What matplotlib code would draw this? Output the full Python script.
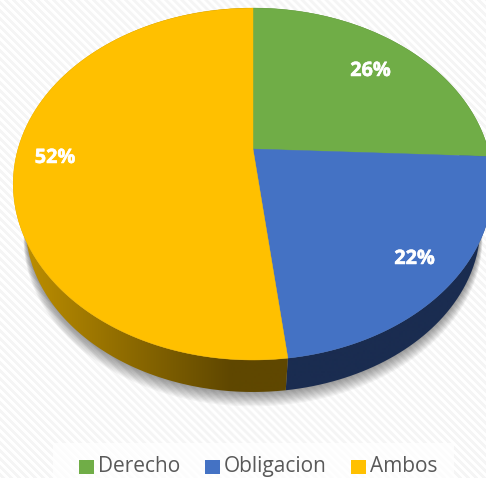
import matplotlib
matplotlib.use('Agg')

import numpy as np
import matplotlib.pyplot as plt
import matplotlib.patheffects as pe
from matplotlib.colors import to_rgb
from matplotlib.patches import Polygon, Rectangle

categories = ['Derecho', 'Obligacion', 'Ambos']
values = [25.7, 22.4, 51.9]
labels = ['26%', '22%', '52%']
top_colors = ['#70AD47', '#4472C4', '#FFC000']
side_dark = ['#3c5c26', '#1A2C50', '#5F4700']
side_light = ['#4f7a33', '#1A2C50', '#BC8E00']

W, H = 486, 478
CX, CY = 253, 149
A, B, K = 235, 169, 0.199
R_LOW = 0.95
DY_LOW = 45


def project(theta, r=1.0, dy=0):
    # circle -> screen, simple perspective (theta clockwise from top)
    u = r * np.sin(theta)
    v = r * np.cos(theta)
    w = 1 + K * v
    return CX + A * u / w, CY - B * v / w + dy


fig = plt.figure(figsize=(W / 100, H / 100), dpi=100)
ax = fig.add_axes([0, 0, 1, 1])
ax.set_xlim(0, W)
ax.set_ylim(H, 0)
ax.axis('off')

# striped background
yy, xx = np.mgrid[0:H, 0:W]
bg = np.where((xx - yy) % 8 < 4, 1.0, 0.96)
ax.imshow(bg, cmap='gray', vmin=0, vmax=1, extent=(0, W, H, 0), zorder=0,
          interpolation='bilinear', aspect='auto')
ax.add_patch(Rectangle((53, 443), 401, 35, fc='white', alpha=0.75, ec='none', zorder=1))

# soft shadow under the pie
t = np.linspace(0, 2 * np.pi, 300)
for i in range(12):
    x, y = project(t, r=R_LOW + i * 0.0008, dy=DY_LOW + i * 1.1)
    ax.add_patch(Polygon(np.c_[x, y], fc='black', ec='none', alpha=0.04, zorder=2))

edges = 2 * np.pi * np.cumsum([0] + values) / sum(values)

# side wall, gradient clipped to the wedge's outer band
for i in range(len(values)):
    tt = np.linspace(edges[i], edges[i + 1], 200)
    x0, y0 = project(tt)
    x1, y1 = project(tt, r=R_LOW, dy=DY_LOW)
    band = Polygon(np.vstack([np.c_[x0, y0], np.c_[x1, y1][::-1]]), fc='none', ec='none',
                   transform=ax.transData)
    ax.add_patch(band)
    f = np.clip((230 - np.arange(W)) / 205, 0, 1)
    c0, c1 = np.array(to_rgb(side_dark[i])), np.array(to_rgb(side_light[i]))
    grad = c0 + (c1 - c0) * f[:, None]
    im = ax.imshow(grad[None, :, :], extent=(0, W, H, 0), zorder=3, aspect='auto')
    im.set_clip_path(band)

# top face
for i in range(len(values)):
    tt = np.linspace(edges[i], edges[i + 1], 200)
    x, y = project(tt)
    pts = np.vstack([[CX, CY], np.c_[x, y]])
    ax.add_patch(Polygon(pts, fc=top_colors[i], ec=top_colors[i], lw=0.3, zorder=4))

# percent labels
label_pos = [(370.5, 71), (414.5, 259), (55, 158)]
for lab, (lx, ly) in zip(labels, label_pos):
    ax.text(lx, ly, lab, color='white', fontsize=14.3, fontweight='bold',
            family=['Open Sans', 'DejaVu Sans'], ha='center', va='center', zorder=5,
            path_effects=[pe.withStroke(linewidth=0.35, foreground='white')])

# legend
leg_x = [(79, 98), (205, 224), (351, 370)]
for name, col, (sx, tx) in zip(categories, top_colors, leg_x):
    ax.add_patch(Rectangle((sx, 460), 15, 14, fc=col, ec='none', zorder=5))
    ax.text(tx, 466.2, name, color='#595959', fontsize=15,
            family=['Open Sans', 'DejaVu Sans'], ha='left', va='center', zorder=5)

fig.savefig('out.png', dpi=100)
